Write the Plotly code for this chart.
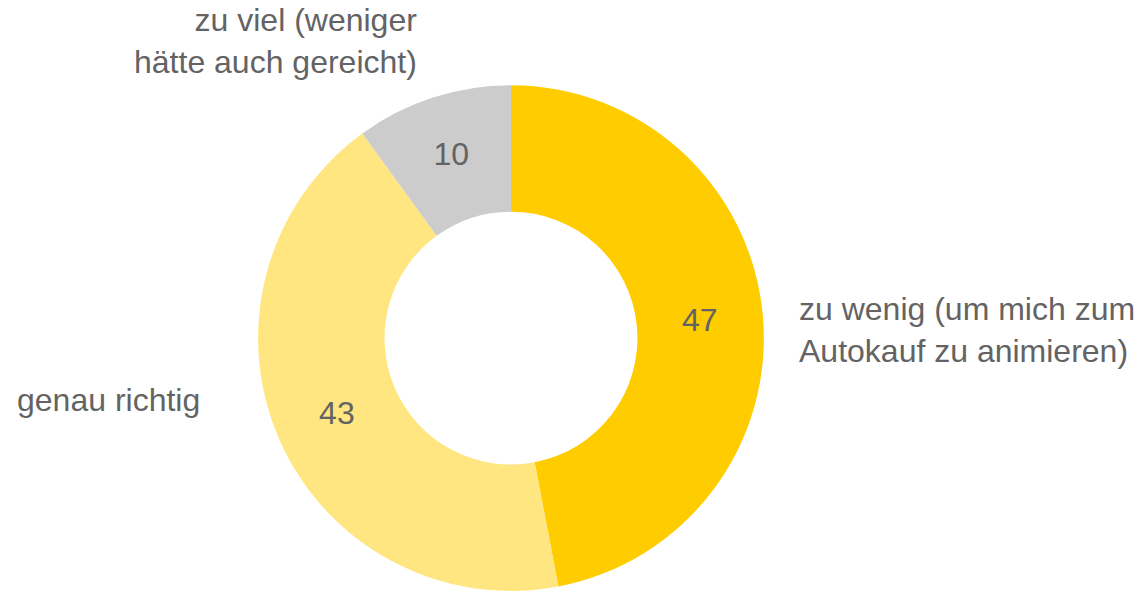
import plotly.graph_objects as go

labels = ["zu wenig (um mich zum<br>Autokauf zu animieren)", "genau richtig", "zu viel (weniger<br>hätte auch gereicht)"]
values = [47, 43, 10]
colors = ["#FFCC00", "#FFE680", "#CCCCCC"]

W, H = 1137, 592
fig = go.Figure(go.Pie(
    labels=labels, values=values, sort=False, direction="clockwise", rotation=0,
    hole=0.5, marker=dict(colors=colors, line=dict(width=0)),
    textinfo="value", textposition="inside", insidetextorientation="horizontal",
    textfont=dict(family="Liberation Sans, Arial", size=32, color="#636363"),
    domain=dict(x=[0.2269, 0.6719], y=[0.0017, 0.856]),
    showlegend=False, hoverinfo="label+value",
))

font = dict(family="Liberation Sans, Arial", size=32, color="#636363")
fig.add_annotation(x=797/W, y=1-330/H, xref="paper", yref="paper", text=labels[0],
                   showarrow=False, xanchor="left", yanchor="middle", align="left", font=font)
fig.add_annotation(x=202/W, y=1-400/H, xref="paper", yref="paper", text=labels[1],
                   showarrow=False, xanchor="right", yanchor="middle", align="right", font=font)
fig.add_annotation(x=419/W, y=1-41/H, xref="paper", yref="paper", text=labels[2],
                   showarrow=False, xanchor="right", yanchor="middle", align="right", font=font)

fig.update_layout(width=W, height=H, margin=dict(l=0, r=0, t=0, b=0),
                  paper_bgcolor="white", plot_bgcolor="white")
fig.write_html("out.html", config={"displayModeBar": False},
               post_script="document.body.style.margin='0';document.body.style.overflow='hidden';")
